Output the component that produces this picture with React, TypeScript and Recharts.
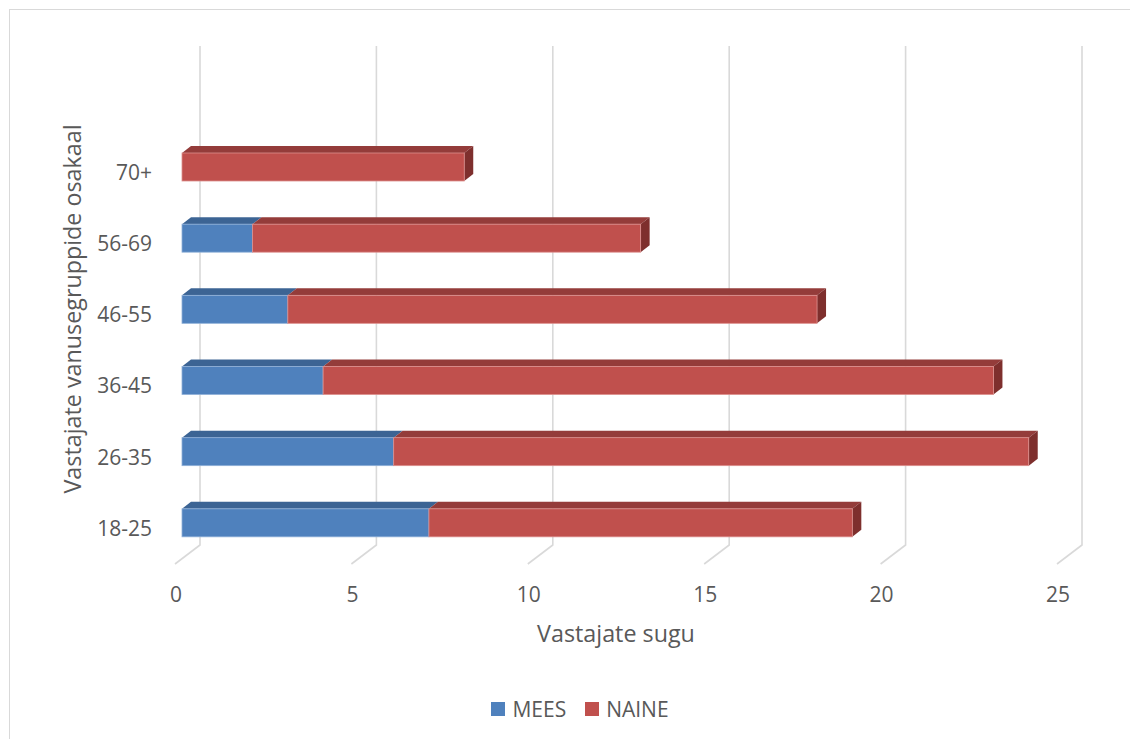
import { BarChart, Bar, XAxis, YAxis, CartesianGrid, Legend } from "recharts"

const AGE_GROUPS = ["18-25", "26-35", "36-45", "46-55", "56-69", "70+"]
const MEES = [7, 6, 4, 3, 2, 0]
const NAINE = [12, 18, 19, 15, 11, 8]
const X_TICKS = [0, 5, 10, 15, 20, 25]

const SERIES = [
  { key: "MEES", front: "#4F81BD", top: "#3C6494", side: "#345783", edge: "#8FB0D8" },
  { key: "NAINE", front: "#C0504D", top: "#943C3A", side: "#7E2F2D", edge: "#DC8F8D" },
]

// depth of the pseudo-3D boxes
const DEPTH_X = 9
const DEPTH_Y = 7
const TEXT = "#595959"
const GRID = "#D9D9D9"
const FONT = "'Open Sans', sans-serif"

const data = AGE_GROUPS.map((group, i) => ({ group, MEES: MEES[i], NAINE: NAINE[i] }))

function Box3D(props: any) {
  const { x, y, width, height, colors, withSide } = props
  if (!width || width <= 0) return null
  const topFace = `${x},${y} ${x + DEPTH_X},${y - DEPTH_Y} ${x + width + DEPTH_X},${y - DEPTH_Y} ${x + width},${y}`
  const sideFace = `${x + width},${y} ${x + width + DEPTH_X},${y - DEPTH_Y} ${x + width + DEPTH_X},${y + height - DEPTH_Y} ${x + width},${y + height}`
  return (
    <g>
      <polygon points={topFace} fill={colors.top} />
      {withSide && <polygon points={sideFace} fill={colors.side} />}
      <rect x={x} y={y} width={width} height={height} fill={colors.front} stroke={colors.edge} strokeWidth={0.8} />
    </g>
  )
}

// back wall line plus the short floor segment towards the viewer
const gridLine = (p: any) => {
  const { x1, y1, y2 } = p
  const bx = x1 + 18
  return (
    <polyline
      key={p.key ?? `g-${x1}`}
      points={`${bx},${y1 - 85} ${bx},${y2 - 13} ${x1 - 7},${y2 + 6}`}
      fill="none"
      stroke={GRID}
      strokeWidth={1.6}
    />
  )
}

const XTick = (p: any) => (
  <text x={p.x - 6} y={p.y} dy="0.35em" textAnchor="middle" fill={TEXT} fontSize={21} fontFamily={FONT}>
    {p.payload.value}
  </text>
)

const YTick = (p: any) => (
  <text x={p.x} y={p.y + 6} dy="0.35em" textAnchor="end" fill={TEXT} fontSize={21} fontFamily={FONT}>
    {p.payload.value}
  </text>
)

const XTitle = (p: any) => {
  const vb = p.viewBox
  return (
    <text x={vb.x + vb.width / 2 - 7} y={vb.y + 84} textAnchor="middle" fill={TEXT} fontSize={23.3} fontFamily={FONT}>
      Vastajate sugu
    </text>
  )
}

const YTitle = (p: any) => {
  const vb = p.viewBox
  const cx = vb.x + 62
  const cy = vb.y + 178
  return (
    <text
      x={cx}
      y={cy}
      transform={`rotate(-90, ${cx}, ${cy})`}
      textAnchor="middle"
      dominantBaseline="central"
      fill={TEXT}
      fontSize={23.3}
      fontFamily={FONT}
    >
      Vastajate vanusegruppide osakaal
    </text>
  )
}

const LegendContent = () => (
  <div
    style={{
      display: "flex",
      justifyContent: "center",
      alignItems: "center",
      gap: 19,
      height: 30,
      paddingLeft: 86,
      fontFamily: FONT,
      fontSize: 21,
      color: TEXT,
    }}
  >
    {SERIES.map((s) => (
      <span key={s.key} style={{ display: "flex", alignItems: "center", gap: 7 }}>
        <span style={{ width: 14, height: 14, background: s.front, display: "inline-block" }} />
        {s.key}
      </span>
    ))}
  </div>
)

export default function App() {
  return (
    <>
      <style>{"html, body { overflow: hidden; }"}</style>
      {/* chart frame: top and left edges only */}
      <div
        style={{
          position: "absolute",
          left: 9,
          top: 9,
          width: 1121,
          height: 730,
          borderTop: `1px solid ${GRID}`,
          borderLeft: `1px solid ${GRID}`,
          boxSizing: "border-box",
          pointerEvents: "none",
        }}
      />
      <div style={{ position: "absolute", left: 10, top: 10, width: 1112, height: 720 }}>
        <BarChart
          width={1112}
          height={720}
          data={data}
          layout="vertical"
          margin={{ top: 121, right: 58, bottom: 6, left: 0 }}
          barSize={28}
        >
          <CartesianGrid horizontal={false} vertical={gridLine} />
          <XAxis
            type="number"
            domain={[0, 25]}
            ticks={X_TICKS}
            axisLine={false}
            tickLine={false}
            tickSize={0}
            tickMargin={37}
            height={136}
            tick={XTick}
            label={XTitle}
          />
          <YAxis
            type="category"
            dataKey="group"
            reversed
            width={172}
            axisLine={false}
            tickLine={false}
            tickSize={0}
            tickMargin={30}
            tick={YTick}
            label={YTitle}
          />
          <Legend verticalAlign="bottom" height={30} content={LegendContent} />
          {SERIES.map((s, i) => (
            <Bar
              key={s.key}
              dataKey={s.key}
              name={s.key}
              stackId="sugu"
              fill={s.front}
              isAnimationActive={false}
              shape={(p: any) => <Box3D {...p} colors={s} withSide={i === SERIES.length - 1} />}
            />
          ))}
        </BarChart>
      </div>
    </>
  )
}
